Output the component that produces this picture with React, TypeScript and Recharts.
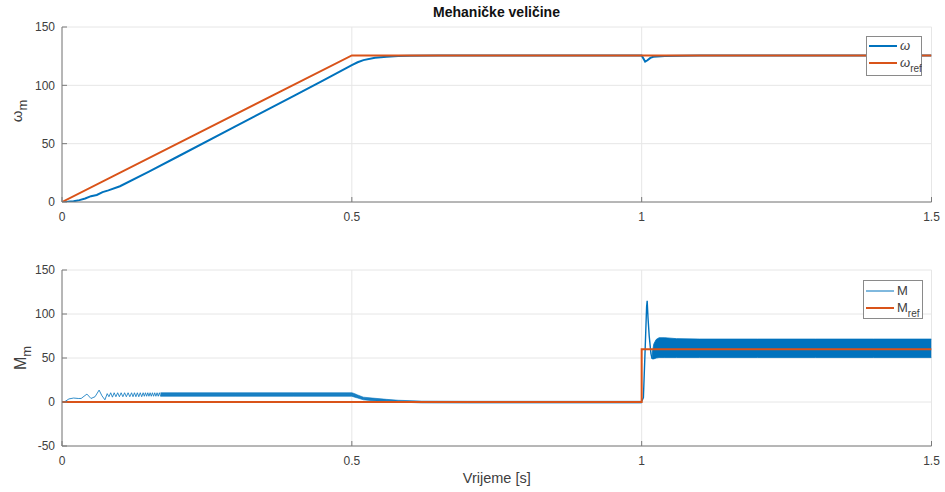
import React from "react";
import { Area, CartesianGrid, ComposedChart, Legend, Line, XAxis, YAxis } from "recharts";

const BLUE = "#0072BD";
const ORANGE = "#D95319";
const FONT = "'Liberation Sans', Arial, Helvetica, sans-serif";
const AXIS = "#7a7a7a";
const TXT = "#404040";

const xTicks = [0, 0.5, 1, 1.5];
const omegaTicks = [0, 50, 100, 150];
const torqueTicks = [-50, 0, 50, 100, 150];

// ω_ref
const tOmegaRef = [0, 0.5, 1.5];
const omegaRef = [0, 125.66, 125.66];

// ω
const tOmega = [0, 0.01, 0.02, 0.03, 0.04, 0.05, 0.06, 0.07, 0.08, 0.1, 0.15, 0.2, 0.3, 0.4, 0.45, 0.5, 0.51, 0.52, 0.54, 0.56, 0.58, 0.6, 0.65, 0.7, 1.0, 1.003, 1.006, 1.01, 1.015, 1.02, 1.04, 1.07, 1.1, 1.5];
const omega = [0, 0.2, 0.6, 1.6, 3, 5, 6, 8.5, 10, 13.5, 26, 39, 65, 91, 104, 117.4, 119.8, 121.6, 123.6, 124.6, 125.1, 125.4, 125.6, 125.66, 125.66, 123, 120.3, 121.5, 123.5, 124.5, 125.1, 125.4, 125.6, 125.66];

// M_ref
const tTorqueRef = [0, 1.0, 1.0, 1.5];
const torqueRef = [0, 0, 60, 60];

// M - start-up ripple
const tTorqueStart = [0, 0.005, 0.012, 0.02, 0.028, 0.033, 0.038, 0.043, 0.05, 0.057, 0.064, 0.069, 0.074, 0.078, 0.081, 0.084, 0.087, 0.09, 0.093, 0.096, 0.099, 0.102, 0.105, 0.108, 0.111, 0.114, 0.117, 0.12, 0.1225, 0.125, 0.1275, 0.13, 0.1325, 0.135, 0.1375, 0.14, 0.142, 0.144, 0.146, 0.148, 0.15, 0.152, 0.154, 0.156, 0.158, 0.16, 0.162, 0.164, 0.166, 0.168, 0.17];
const torqueStart = [0, 0.5, 3.5, 4.5, 4, 4, 6.5, 9, 4, 6, 13.5, 7, 2.5, 9.5, 6, 10.5, 5.5, 10.5, 6, 10.5, 6, 10.5, 6, 10.5, 6, 10.5, 6, 10.5, 6, 10.5, 6, 10.5, 6, 10.5, 6, 10.5, 6.5, 10.5, 6.5, 10.5, 6.5, 10.5, 6.5, 10.5, 6.5, 10.5, 6.5, 10.5, 6.5, 10.5, 6.5];

// M - ripple envelope up to the load step
const tBandA = [0.17, 0.2, 0.3, 0.4, 0.49, 0.5, 0.505, 0.51, 0.52, 0.535, 0.56, 0.58, 0.62, 0.7, 1.0];
const loBandA = [6.5, 6.5, 6.5, 6.5, 6.5, 6.5, 5.5, 4.5, 2.5, 1.5, 0.5, 0, -1, -1.2, -1.2];
const hiBandA = [10.5, 10.5, 10.5, 10.5, 10.5, 10.5, 9.5, 8, 5.5, 4.5, 3, 2, 1, 0.8, 0.8];

// M - overshoot after the load step
const tTorqueStep = [1.0, 1.003, 1.006, 1.0085, 1.0095, 1.011, 1.013, 1.016, 1.018];
const torqueStep = [0.5, 5, 60, 108, 115, 95, 75, 55, 49];

// M - ripple envelope under load
const tBandB = [1.018, 1.021, 1.025, 1.03, 1.04, 1.06, 1.1, 1.2, 1.3, 1.4, 1.5];
const loBandB = [49, 49, 50, 50.5, 50.5, 50.5, 50.5, 50.5, 50.5, 50.5, 50.5];
const hiBandB = [55, 66, 71, 73, 73, 72, 71.5, 71.5, 71.5, 71.5, 71.5];

const zip = (t: number[], v: number[]) => t.map((x, i) => ({ t: x, v: v[i] }));
const zipBand = (t: number[], lo: number[], hi: number[]) =>
  t.map((x, i) => ({ t: x, r: [lo[i], hi[i]] }));

const tickStyle = { fontSize: 12, fill: TXT, fontFamily: FONT };

const fmtX = (v: number) => String(v);

const LegendBox = ({
  w,
  h,
  rows,
}: {
  w: number;
  h: number;
  rows: { color: string; width: number; y: number; main: string; sub?: string; italic?: boolean }[];
}) => (
  <svg width={w} height={h} style={{ display: "block" }}>
    <rect x={0.5} y={0.5} width={w - 1} height={h - 1} fill="#fff" stroke="#8a8a8a" strokeWidth={1} />
    {rows.map((r) => (
      <g key={r.main + (r.sub ?? "")}>
        <line x1={3} x2={31} y1={r.y} y2={r.y} stroke={r.color} strokeWidth={r.width} />
        <text x={34} y={r.y + 4} fontFamily={FONT} fontSize={13} fill={TXT}>
          <tspan fontStyle={r.italic ? "italic" : "normal"}>{r.main}</tspan>
          {r.sub && (
            <tspan dy={5} fontSize={10}>
              {r.sub}
            </tspan>
          )}
        </text>
      </g>
    ))}
  </svg>
);

const axisCommon = {
  stroke: AXIS,
  tickSize: -5,
  tick: tickStyle,
};

export default function App() {
  return (
    <div style={{ position: "relative", width: 945, height: 492, background: "#fff", fontFamily: FONT }}>
      <style>{"body{margin:0;}"}</style>
      <div
        style={{
          position: "absolute",
          top: 4,
          left: 0,
          width: 993,
          textAlign: "center",
          fontWeight: "bold",
          fontSize: 14,
          color: "#111",
        }}
      >
        Mehaničke veličine
      </div>

      <div style={{ position: "absolute", top: 0, left: 0 }}>
        <ComposedChart width={945} height={240} margin={{ top: 27, right: 13.5, left: 22, bottom: 13 }}>
          <CartesianGrid stroke="#e6e6e6" strokeWidth={1} />
          <XAxis
            {...axisCommon}
            type="number"
            dataKey="t"
            domain={[0, 1.5]}
            ticks={xTicks}
            tickFormatter={fmtX}
            tickMargin={15}
            height={25}
            allowDataOverflow
          />
          <XAxis {...axisCommon} xAxisId="top" orientation="top" type="number" dataKey="t" domain={[0, 1.5]} ticks={xTicks} tickFormatter={() => ""} height={0} />
          <YAxis
            {...axisCommon}
            type="number"
            domain={[0, 150]}
            ticks={omegaTicks}
            tickMargin={12}
            width={40}
            allowDataOverflow
            label={{
              content: () => (
                <text transform="rotate(-90)" x={-111} y={22} textAnchor="middle" fontFamily={FONT} fill={TXT}>
                  <tspan fontSize={15}>ω</tspan>
                  <tspan fontSize={13} dy={5}>m</tspan>
                </text>
              ),
            }}
          />
          <YAxis {...axisCommon} yAxisId="r" orientation="right" domain={[0, 150]} ticks={omegaTicks} tickFormatter={() => ""} width={0} />
          <Line data={zip(tOmega, omega)} dataKey="v" type="linear" stroke={BLUE} strokeWidth={2} dot={false} isAnimationActive={false} />
          <Line data={zip(tOmegaRef, omegaRef)} dataKey="v" type="linear" stroke={ORANGE} strokeWidth={2} dot={false} isAnimationActive={false} />
          <Legend
            layout="vertical"
            align="center"
            verticalAlign="middle"
            wrapperStyle={{ position: "absolute", left: 866, top: 36, width: 56, height: 40 }}
            content={() => (
              <LegendBox
                w={56}
                h={40}
                rows={[
                  { color: BLUE, width: 2, y: 10, main: "ω", italic: true },
                  { color: ORANGE, width: 2, y: 27, main: "ω", sub: "ref", italic: true },
                ]}
              />
            )}
          />
        </ComposedChart>
      </div>

      <div style={{ position: "absolute", top: 240, left: 0 }}>
        <ComposedChart width={945} height={252} margin={{ top: 30, right: 13.5, left: 22, bottom: 21 }}>
          <CartesianGrid stroke="#e6e6e6" strokeWidth={1} />
          <XAxis
            {...axisCommon}
            type="number"
            dataKey="t"
            domain={[0, 1.5]}
            ticks={xTicks}
            tickFormatter={fmtX}
            tickMargin={15}
            height={25}
            allowDataOverflow
            label={{ value: "Vrijeme [s]", position: "bottom", offset: 2, fill: TXT, fontSize: 14.5, fontFamily: FONT }}
          />
          <XAxis {...axisCommon} xAxisId="top" orientation="top" type="number" dataKey="t" domain={[0, 1.5]} ticks={xTicks} tickFormatter={() => ""} height={0} />
          <YAxis
            {...axisCommon}
            type="number"
            domain={[-50, 150]}
            ticks={torqueTicks}
            tickMargin={12}
            width={40}
            allowDataOverflow
            label={{
              content: () => (
                <text transform="rotate(-90)" x={-118} y={26} textAnchor="middle" fontFamily={FONT} fill={TXT}>
                  <tspan fontSize={16}>M</tspan>
                  <tspan fontSize={13} dy={5}>m</tspan>
                </text>
              ),
            }}
          />
          <YAxis {...axisCommon} yAxisId="r" orientation="right" domain={[-50, 150]} ticks={torqueTicks} tickFormatter={() => ""} width={0} />
          <Line data={zip(tTorqueStart, torqueStart)} dataKey="v" type="linear" stroke={BLUE} strokeWidth={0.8} dot={false} isAnimationActive={false} />
          <Area data={zipBand(tBandA, loBandA, hiBandA)} dataKey="r" type="linear" stroke={BLUE} strokeWidth={0.6} fill={BLUE} fillOpacity={0.9} isAnimationActive={false} />
          <Line data={zip(tTorqueStep, torqueStep)} dataKey="v" type="linear" stroke={BLUE} strokeWidth={1.4} dot={false} isAnimationActive={false} />
          <Area data={zipBand(tBandB, loBandB, hiBandB)} dataKey="r" type="linear" stroke={BLUE} strokeWidth={0.8} fill={BLUE} fillOpacity={1} isAnimationActive={false} />
          <Line data={zip(tTorqueRef, torqueRef)} dataKey="v" type="linear" stroke={ORANGE} strokeWidth={2} dot={false} isAnimationActive={false} />
          <Legend
            layout="vertical"
            align="center"
            verticalAlign="middle"
            wrapperStyle={{ position: "absolute", left: 863, top: 40, width: 60, height: 39 }}
            content={() => (
              <LegendBox
                w={60}
                h={39}
                rows={[
                  { color: BLUE, width: 1, y: 11, main: "M" },
                  { color: ORANGE, width: 2, y: 28, main: "M", sub: "ref" },
                ]}
              />
            )}
          />
        </ComposedChart>
      </div>
    </div>
  );
}
